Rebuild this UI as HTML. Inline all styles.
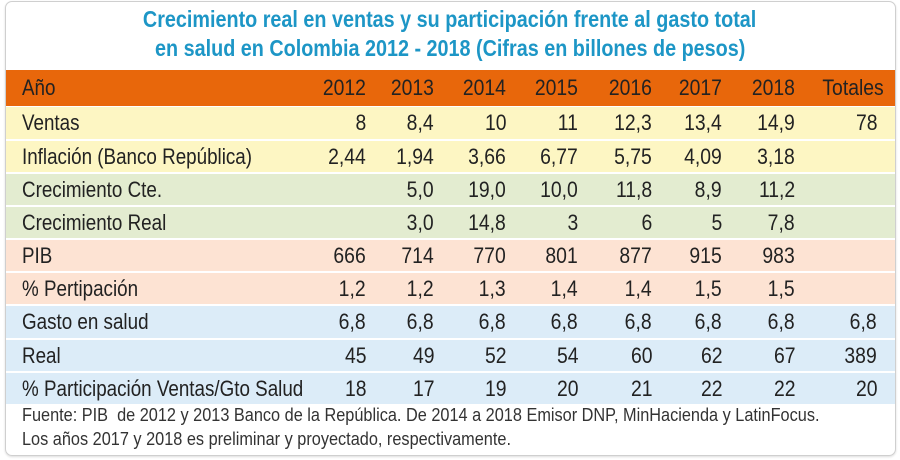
<!DOCTYPE html>
<html><head><meta charset="utf-8"><style>
*{margin:0;padding:0;box-sizing:border-box}
body{width:900px;height:460px;background:#fff;position:relative;overflow:hidden;font-family:"Liberation Sans",sans-serif;color:#222}
.card{position:absolute;left:5px;top:1px;width:891px;height:455px;border:1px solid #cfcfcf;border-radius:7px;box-shadow:0 1px 2px #ddd}
.t{position:absolute;left:0;width:900px;text-align:center;color:#1d96c6;font-weight:bold;font-size:23px;white-space:nowrap}
.t span{display:inline-block;transform:scaleX(0.86)}
.row{position:absolute;left:6px;width:889px;height:32px}
.c{position:absolute;font-size:22px;white-space:nowrap;line-height:32px;top:0}
.l{left:16px;transform:scaleX(0.855);transform-origin:left center}
.n{transform:scaleX(0.88);transform-origin:right center;text-align:right}
.f{position:absolute;left:22px;font-size:18px;color:#333;white-space:nowrap;transform:scaleX(0.905);transform-origin:left center}
</style></head><body>
<div class="card"></div>
<div class="t" style="top:6px"><span>Crecimiento real en ventas y su participación frente al gasto total</span></div>
<div class="t" style="top:35px"><span>en salud en Colombia 2012 - 2018 (Cifras en billones de pesos)</span></div>

<div id="tbl"></div>
<div class="f" style="top:405px">Fuente: PIB&nbsp; de 2012 y 2013 Banco de la República. De 2014 a 2018 Emisor DNP, MinHacienda y LatinFocus.</div>
<div class="f" style="top:429px">Los años 2017 y 2018 es preliminar y proyectado, respectivamente.</div>
<script>
var rights=[366,434,506,578,652,722,795,877];
var rows=[
["Año",["2012","2013","2014","2015","2016","2017","2018","Totales"],"#e8670b",70,36],
["Ventas",["8","8,4","10","11","12,3","13,4","14,9","78"],"#fdf6c3",107,32],
["Inflación (Banco República)",["2,44","1,94","3,66","6,77","5,75","4,09","3,18",""],"#fdf6c3",141,31],
["Crecimiento Cte.",["","5,0","19,0","10,0","11,8","8,9","11,2",""],"#e3ecd0",174,31],
["Crecimiento Real",["","3,0","14,8","3","6","5","7,8",""],"#e3ecd0",207,31],
["PIB",["666","714","770","801","877","915","983",""],"#fde3d3",240,31],
["% Pertipación",["1,2","1,2","1,3","1,4","1,4","1,5","1,5",""],"#fde3d3",273,31],
["Gasto en salud",["6,8","6,8","6,8","6,8","6,8","6,8","6,8","6,8"],"#dcecf8",306,32],
["Real",["45","49","52","54","60","62","67","389"],"#dcecf8",340,31],
["% Participación Ventas/Gto Salud",["18","17","19","20","21","22","22","20"],"#dcecf8",373,31]];
var h="";
rows.forEach(function(r,i){
 h+='<div class="row" style="top:'+r[3]+'px;height:'+r[4]+'px;background:'+r[2]+'">';
 h+='<div class="c l" style="line-height:'+r[4]+'px">'+r[0]+'</div>';
 r[1].forEach(function(v,j){
  var rr=rights[j]; if(i==0&&j==7) rr=884;
  h+='<div class="c n" style="line-height:'+r[4]+'px;right:'+(895-rr)+'px">'+v+'</div>';
 });
 h+='</div>';
});
document.getElementById("tbl").innerHTML=h;
</script>
</body></html>
